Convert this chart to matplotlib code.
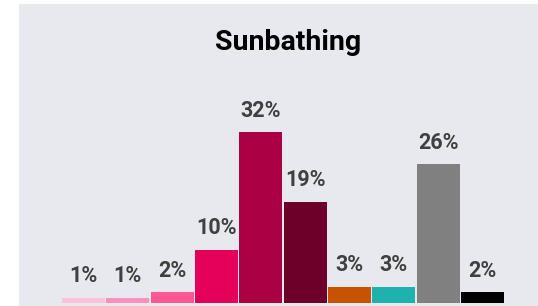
import matplotlib
matplotlib.use("Agg")
import matplotlib.pyplot as plt
from matplotlib.patches import Rectangle

# data
categories = ["c1", "c2", "c3", "c4", "c5", "c6", "c7", "c8", "c9", "c10"]
values = [1, 1, 2, 10, 32, 19, 3, 3, 26, 2]
labels = ["1%", "1%", "2%", "10%", "32%", "19%", "3%", "3%", "26%", "2%"]
colors = ["#fcc2d8", "#fe8fbb", "#fe5793", "#e5005a", "#ab0042", "#6d0028",
          "#c85200", "#1fb1ac", "#808080", "#000000"]

plt.rcParams['font.family'] = ['Roboto', 'DejaVu Sans']

W, H = 538, 306
fig = plt.figure(figsize=(W / 100, H / 100), dpi=100)
fig.patch.set_facecolor("white")
# grey panel
fig.add_artist(Rectangle((19 / W, 0), 1 - 19 / W, 1 - 4 / H,
                         transform=fig.transFigure, facecolor="#e7e9ee",
                         edgecolor="none", zorder=0))

ymax = 40
ax_h = ymax * 5.34
ax = fig.add_axes([61.3 / W, 3 / H, 443.4 / W, ax_h / H])
ax.set_facecolor("none")
x = range(len(values))
ax.bar(x, values, width=0.97, color=colors, zorder=2)
for i, (v, lab) in enumerate(zip(values, labels)):
    ax.annotate(lab, (i, v), xytext=(0, 11.2), textcoords="offset points",
                ha="center", va="baseline", fontsize=15.5, fontweight="bold",
                color="#404040")
ax.set_xlim(-0.5, len(values) - 0.5)
ax.set_ylim(0, ymax)
ax.axis("off")

fig.text(288.5 / W, 1 - 49.5 / H, "Sunbathing", ha="center", va="baseline",
         fontsize=20.5, fontweight="bold", color="#000000")

fig.savefig("out.png", dpi=100)
